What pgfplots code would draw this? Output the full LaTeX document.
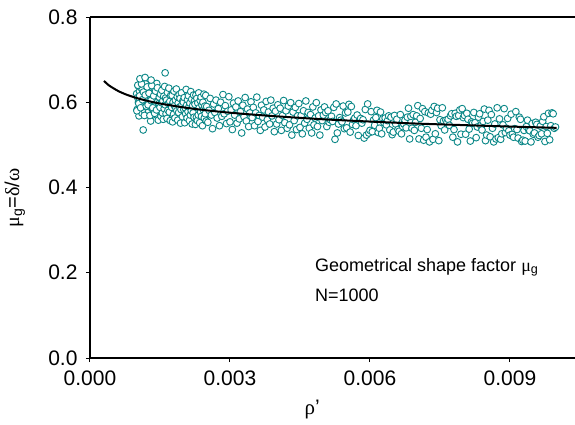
\documentclass[border=0pt]{standalone}
\usepackage{fontspec}
\setmainfont{Liberation Sans}
\newfontfamily\grk{Liberation Serif}
\usepackage{pgfplots}
\pgfplotsset{compat=1.18}
\definecolor{teal1}{RGB}{10,135,135}
\begin{document}
\begin{tikzpicture}
\begin{axis}[
 name=ax, at={(0,0)}, anchor=south west,
 scale only axis, width=485bp, height=341bp,
 xmin=0, xmax=0.010393, ymin=0, ymax=0.8,
 clip marker paths=true,
 axis x line*=box, axis y line*=left,
 axis line style={-, line width=1.2bp},
 xtick={0,0.003,0.006,0.009}, ytick={0,0.2,0.4,0.6,0.8},
 xtick pos=bottom, ytick pos=left,
 tick align=outside, major tick length=4bp,
 tick style={line width=1bp, black},
 scaled x ticks=false, scaled y ticks=false,
 /pgf/number format/assume math mode=true,
 xticklabel style={/pgf/number format/fixed,/pgf/number format/fixed zerofill,/pgf/number format/precision=3, yshift=-5bp},
 yticklabel style={/pgf/number format/fixed,/pgf/number format/fixed zerofill,/pgf/number format/precision=1, xshift=-5bp},
 ticklabel style={font=\fontsize{21bp}{25bp}\selectfont},
 xlabel={{\grk ρ}'},
 xlabel style={at={(axis description cs:0.458,-0.152)}, anchor=center, font=\fontsize{21bp}{25bp}\selectfont},
 ylabel={{\grk μ}\textsubscript{g}={\grk δ}/{\grk ω}},
 ylabel style={at={(axis description cs:-0.155,0.469)}, anchor=center, font=\fontsize{20bp}{24bp}\selectfont},
]
\addplot[only marks, mark=*, mark size=3.4bp, mark options={draw=teal1, fill=white, line width=0.9bp}] coordinates {
(0.00100,0.620)(0.00101,0.583)(0.00102,0.611)(0.00103,0.639)(0.00104,0.600)(0.00105,0.568)(0.00106,0.626)(0.00107,0.606)(0.00108,0.635)(0.00109,0.593)(0.00110,0.615)(0.00111,0.575)(0.00112,0.630)(0.00113,0.597)(0.00114,0.648)(0.00115,0.603)(0.00116,0.622)(0.00117,0.580)(0.00118,0.609)(0.00119,0.643)(0.00120,0.589)(0.00121,0.617)(0.00122,0.571)(0.00123,0.633)(0.00124,0.605)
(0.00125,0.617)(0.00126,0.579)(0.00127,0.631)(0.00128,0.589)(0.00129,0.606)(0.00130,0.556)(0.00131,0.621)(0.00132,0.594)(0.00133,0.639)(0.00134,0.584)(0.00135,0.612)(0.00136,0.571)(0.00137,0.603)(0.00138,0.629)(0.00139,0.592)(0.00140,0.620)(0.00141,0.577)(0.00142,0.607)(0.00143,0.644)(0.00144,0.587)(0.00145,0.601)(0.00146,0.566)(0.00147,0.625)(0.00148,0.597)(0.00149,0.614)
(0.001005,0.580)(0.001025,0.640)(0.001045,0.597)(0.001065,0.615)(0.001085,0.587)(0.001105,0.643)(0.001125,0.606)(0.001145,0.624)(0.001165,0.569)(0.001185,0.617)(0.001205,0.591)(0.001225,0.636)(0.001245,0.594)(0.001265,0.621)(0.001285,0.569)(0.001305,0.604)(0.001325,0.639)(0.001345,0.587)(0.001365,0.615)(0.001385,0.574)(0.001405,0.626)(0.001425,0.582)(0.001445,0.634)(0.001465,0.558)(0.001485,0.612)
(0.00107,0.655)(0.00131,0.652)(0.00118,0.658)(0.00114,0.535)(0.00161,0.669)
(0.00150,0.588)(0.00151,0.619)(0.00152,0.567)(0.00153,0.599)(0.00154,0.628)(0.00155,0.575)(0.00156,0.603)(0.00157,0.560)(0.00158,0.614)(0.00159,0.585)(0.00160,0.637)(0.00161,0.594)(0.00162,0.610)(0.00163,0.573)(0.00164,0.605)(0.00165,0.562)(0.00166,0.623)(0.00167,0.581)(0.00168,0.597)(0.00169,0.633)(0.00170,0.577)(0.00171,0.602)(0.00172,0.557)(0.00173,0.616)(0.00174,0.591)
(0.00175,0.588)(0.00176,0.616)(0.00177,0.554)(0.00178,0.600)(0.00179,0.572)(0.00180,0.626)(0.00181,0.592)(0.00182,0.563)(0.00183,0.605)(0.00184,0.586)(0.00185,0.631)(0.00186,0.580)(0.00187,0.613)(0.00188,0.558)(0.00189,0.598)(0.00190,0.576)(0.00191,0.618)(0.00192,0.589)(0.00193,0.609)(0.00194,0.551)(0.00195,0.583)(0.00196,0.622)(0.00197,0.594)(0.00198,0.566)(0.00199,0.603)
(0.00200,0.600)(0.00201,0.583)(0.00202,0.611)(0.00203,0.552)(0.00204,0.587)(0.00205,0.573)(0.00206,0.630)(0.00207,0.593)(0.00208,0.563)(0.00209,0.606)(0.00210,0.578)(0.00211,0.615)(0.00212,0.589)(0.00213,0.557)(0.00214,0.598)(0.00215,0.570)(0.00216,0.625)(0.00217,0.580)(0.00218,0.607)(0.00219,0.549)(0.00220,0.592)(0.00221,0.575)(0.00222,0.617)(0.00223,0.565)(0.00224,0.603)
(0.00225,0.595)(0.00226,0.548)(0.00227,0.617)(0.00228,0.565)(0.00229,0.609)(0.00230,0.557)(0.00231,0.598)(0.00232,0.570)(0.00233,0.622)(0.00234,0.587)(0.00235,0.552)(0.00236,0.604)(0.00237,0.577)(0.00238,0.612)(0.00239,0.567)(0.00240,0.593)(0.00241,0.545)(0.00242,0.600)(0.00243,0.582)(0.00244,0.619)(0.00245,0.563)(0.00246,0.591)(0.00247,0.573)(0.00248,0.616)(0.00249,0.556)
(0.002500,0.590)(0.002525,0.553)(0.002550,0.581)(0.002575,0.609)(0.002600,0.570)(0.002625,0.538)(0.002650,0.596)(0.002675,0.576)(0.002700,0.605)(0.002725,0.563)(0.002750,0.585)(0.002775,0.545)(0.002800,0.600)(0.002825,0.567)(0.002850,0.618)(0.002875,0.573)(0.002900,0.592)(0.002925,0.550)(0.002950,0.579)(0.002975,0.613)
(0.003000,0.554)(0.003025,0.582)(0.003050,0.536)(0.003075,0.598)(0.003100,0.570)(0.003125,0.589)(0.003150,0.551)(0.003175,0.603)(0.003200,0.561)(0.003225,0.578)(0.003250,0.528)(0.003275,0.593)(0.003300,0.566)(0.003325,0.611)(0.003350,0.556)(0.003375,0.584)(0.003400,0.543)(0.003425,0.575)(0.003450,0.601)(0.003475,0.564)
(0.003500,0.588)(0.003525,0.545)(0.003550,0.575)(0.003575,0.612)(0.003600,0.555)(0.003625,0.569)(0.003650,0.534)(0.003675,0.593)(0.003700,0.565)(0.003725,0.582)(0.003750,0.542)(0.003775,0.602)(0.003800,0.559)(0.003825,0.577)(0.003850,0.549)(0.003875,0.605)(0.003900,0.568)(0.003925,0.586)(0.003950,0.531)(0.003975,0.579)
(0.004000,0.549)(0.004025,0.594)(0.004050,0.559)(0.004075,0.586)(0.004100,0.534)(0.004125,0.569)(0.004150,0.604)(0.004175,0.552)(0.004200,0.580)(0.004225,0.539)(0.004250,0.591)(0.004275,0.547)(0.004300,0.599)(0.004325,0.523)(0.004350,0.577)(0.004375,0.557)(0.004400,0.588)(0.004425,0.536)(0.004450,0.568)(0.004475,0.597)
(0.004500,0.541)(0.004525,0.569)(0.004550,0.526)(0.004575,0.580)(0.004600,0.551)(0.004625,0.603)(0.004650,0.560)(0.004675,0.576)(0.004700,0.539)(0.004725,0.571)(0.004750,0.528)(0.004775,0.589)(0.004800,0.547)(0.004825,0.563)(0.004850,0.599)(0.004875,0.543)(0.004900,0.568)(0.004925,0.523)(0.004950,0.582)(0.004975,0.557)
(0.005000,0.570)(0.005025,0.589)(0.005050,0.576)(0.005075,0.543)(0.005100,0.580)(0.005125,0.553)(0.005150,0.559)(0.005175,0.567)(0.005200,0.555)(0.005225,0.588)(0.005250,0.513)(0.005275,0.596)(0.005300,0.528)(0.005325,0.549)(0.005350,0.564)(0.005375,0.558)(0.005400,0.554)(0.005425,0.591)(0.005450,0.538)(0.005475,0.575)
(0.005500,0.540)(0.005525,0.577)(0.005550,0.595)(0.005575,0.530)(0.005600,0.590)(0.005625,0.548)(0.005650,0.559)(0.005675,0.563)(0.005700,0.545)(0.005725,0.570)(0.005750,0.522)(0.005775,0.557)(0.005800,0.562)(0.005825,0.551)(0.005850,0.559)(0.005875,0.516)(0.005900,0.583)(0.005925,0.523)(0.005950,0.596)(0.005975,0.528)
(0.006000,0.534)(0.006025,0.578)(0.006050,0.531)(0.006075,0.558)(0.006100,0.546)(0.006125,0.564)(0.006150,0.581)(0.006175,0.529)(0.006200,0.539)(0.006225,0.577)(0.006250,0.526)(0.006275,0.561)(0.006300,0.552)(0.006325,0.563)(0.006350,0.547)(0.006375,0.557)(0.006400,0.568)(0.006425,0.535)(0.006450,0.565)(0.006475,0.524)
(0.006500,0.530)(0.006525,0.569)(0.006550,0.549)(0.006575,0.560)(0.006600,0.536)(0.006625,0.532)(0.006650,0.571)(0.006675,0.526)(0.006700,0.543)(0.006725,0.549)(0.006750,0.558)(0.006775,0.540)(0.006800,0.565)(0.006825,0.586)(0.006850,0.514)(0.006875,0.567)(0.006900,0.539)(0.006925,0.571)(0.006950,0.534)(0.006975,0.553)
(0.007000,0.568)(0.007025,0.592)(0.007050,0.514)(0.007075,0.562)(0.007100,0.539)(0.007125,0.585)(0.007150,0.511)(0.007175,0.578)(0.007200,0.518)(0.007225,0.536)(0.007250,0.575)(0.007275,0.507)(0.007300,0.572)(0.007325,0.581)(0.007350,0.513)(0.007375,0.590)(0.007400,0.526)(0.007425,0.576)(0.007450,0.586)(0.007475,0.510)
(0.007500,0.559)(0.007525,0.545)(0.007550,0.587)(0.007575,0.556)(0.007600,0.535)(0.007625,0.558)(0.007650,0.553)(0.007675,0.560)(0.007700,0.546)(0.007725,0.568)(0.007750,0.573)(0.007775,0.518)(0.007800,0.536)(0.007825,0.574)(0.007850,0.567)(0.007875,0.507)(0.007900,0.569)(0.007925,0.582)(0.007950,0.525)(0.007975,0.585)
(0.008000,0.564)(0.008025,0.569)(0.008050,0.525)(0.008075,0.574)(0.008100,0.560)(0.008125,0.537)(0.008150,0.509)(0.008175,0.554)(0.008200,0.551)(0.008225,0.576)(0.008250,0.552)(0.008275,0.517)(0.008300,0.542)(0.008325,0.565)(0.008350,0.573)(0.008375,0.545)(0.008400,0.535)(0.008425,0.555)(0.008450,0.584)(0.008475,0.510)
(0.008500,0.523)(0.008525,0.558)(0.008550,0.581)(0.008575,0.519)(0.008600,0.571)(0.008625,0.539)(0.008650,0.507)(0.008675,0.549)(0.008700,0.514)(0.008725,0.587)(0.008750,0.517)(0.008775,0.561)(0.008800,0.513)(0.008825,0.526)(0.008850,0.547)(0.008875,0.585)(0.008900,0.529)(0.008925,0.539)(0.008950,0.562)(0.008975,0.533)
(0.009000,0.523)(0.009025,0.572)(0.009050,0.525)(0.009075,0.518)(0.009100,0.538)(0.009125,0.578)(0.009150,0.536)(0.009175,0.516)(0.009200,0.565)(0.009225,0.560)(0.009250,0.508)(0.009275,0.511)(0.009300,0.534)(0.009325,0.509)(0.009350,0.543)(0.009375,0.558)(0.009400,0.535)(0.009425,0.533)(0.009450,0.507)(0.009475,0.550)
(0.009500,0.525)(0.009525,0.528)(0.009550,0.553)(0.009575,0.548)(0.009600,0.518)(0.009625,0.522)(0.009650,0.544)(0.009675,0.526)(0.009700,0.555)(0.009725,0.566)(0.009750,0.508)(0.009775,0.543)(0.009800,0.527)(0.009825,0.574)(0.009850,0.512)(0.009875,0.545)(0.009900,0.575)(0.009925,0.573)(0.009950,0.539)(0.009975,0.542)
};
\addplot[black, line width=2bp, smooth] coordinates {
(0.0003,0.650)(0.0004,0.640)(0.0005,0.633)(0.0006,0.6266)(0.0007,0.6215)(0.0008,0.6171)(0.0010,0.6099)(0.0012,0.604)(0.0015,0.597)(0.0020,0.588)(0.0025,0.581)(0.0030,0.5755)(0.0035,0.571)(0.0040,0.567)(0.0050,0.560)(0.0060,0.5547)(0.0070,0.550)(0.0080,0.5464)(0.0090,0.543)(0.0100,0.540)
};
\node[anchor=base west, font=\fontsize{18bp}{22bp}\selectfont, inner sep=0pt] at (axis cs:0.004821,0.2041) {Geometrical shape factor {\grk μ}\textsubscript{g}};
\node[anchor=base west, font=\fontsize{18bp}{22bp}\selectfont, inner sep=0pt] at (axis cs:0.004821,0.1337) {N=1000};
\end{axis}
\pgfresetboundingbox
\path[use as bounding box] (-90bp,-67bp) rectangle (485bp,358bp);
\end{tikzpicture}
\end{document}
